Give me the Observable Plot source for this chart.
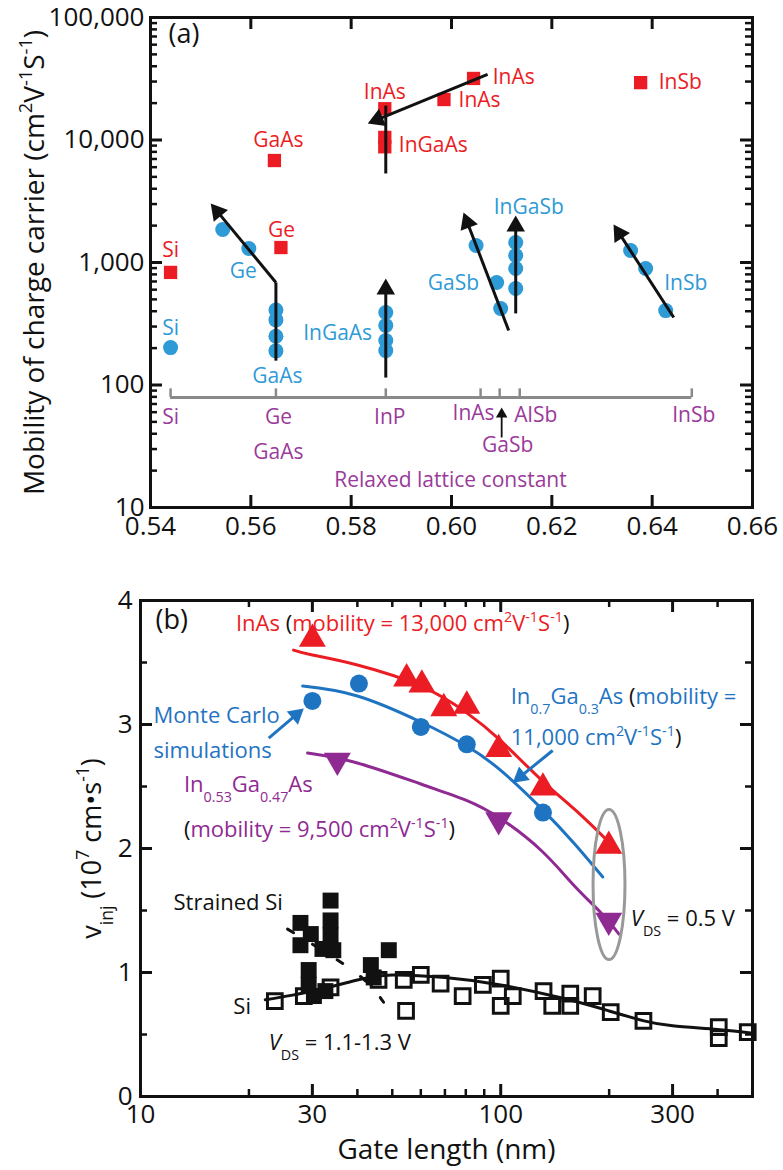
<!DOCTYPE html>
<html><head><meta charset="utf-8">
<script src="https://cdn.jsdelivr.net/npm/d3@7"></script>
<script src="https://cdn.jsdelivr.net/npm/@observablehq/plot@0.6"></script>
<style>
html,body{margin:0;padding:0;background:#fff;}
#wrap{position:relative;width:783px;height:1170px;overflow:hidden;background:#fff;}
#wrap svg{position:absolute;left:0;}
</style></head><body><div id="wrap"></div>
<script>
// ---------------- Panel (a) data ----------------
const latticeTicks = [0.54, 0.56, 0.58, 0.60, 0.62, 0.64, 0.66];
const mobilityTicks = [10, 100, 1000, 10000, 100000];

// electron mobility (red squares)
const redLattice  = [0.544, 0.5647, 0.566, 0.5867, 0.5867, 0.5867, 0.5985, 0.6044, 0.6377];
const redMobility = [830, 6800, 1325, 18000, 10500, 8800, 21400, 31800, 29400];

// hole mobility (blue circles)
const blueLattice  = [0.544, 0.5544, 0.5596, 0.565, 0.565, 0.565, 0.565, 0.5869, 0.5869, 0.5869, 0.5869,
                      0.6049, 0.609, 0.6098, 0.6128, 0.6128, 0.6128, 0.6128, 0.6357, 0.6387, 0.6427];
const blueMobility = [202, 1860, 1300, 410, 340, 250, 190, 391, 306, 231, 191,
                      1376, 687, 421, 1455, 1140, 893, 614, 1253, 893, 405];

// black trend arrows (tail -> head)
const arrowX1 = [0.565, 0.5869, 0.6114, 0.6128, 0.6443, 0.6072];
const arrowY1 = [687, 115, 279, 384, 356, 34300];
const arrowX2 = [0.552, 0.5869, 0.6024, 0.6128, 0.6323, 0.5833];
const arrowY2 = [3034, 740, 2560, 2420, 2040, 13650];
// plain black segments
const segX1 = [0.565, 0.5869];
const segY1 = [158, 5330];
const segX2 = [0.565, 0.5869];
const segY2 = [687, 19100];

// relaxed lattice constant bar
const relaxedLattice = [0.544, 0.565, 0.5869, 0.6058, 0.6096, 0.6136, 0.6479];
const barLevel = 79;
const barTickTop = 93;

const redLabelText   = ["Si", "GaAs", "Ge", "InAs", "InGaAs", "InAs", "InAs", "InSb"];
const redLabelX      = [0.544, 0.5655, 0.5661, 0.5867, 0.5895, 0.6014, 0.6082, 0.6413];
const redLabelY      = [1253, 10000, 1825, 24400, 9020, 21000, 32400, 29400];
const redLabelStart  = [false, false, false, false, true, true, true, true];

const blueLabelText = ["Si", "Ge", "GaAs", "InGaAs", "GaSb", "InGaSb", "InSb"];
const blueLabelX    = [0.544, 0.5585, 0.5653, 0.5773, 0.6004, 0.6154, 0.6467];
const blueLabelY    = [289, 845, 117, 263, 674, 2810, 674];

const purpleLabelText = ["Si", "Ge", "GaAs", "InP", "InAs", "GaSb", "AlSb", "InSb", "Relaxed lattice constant"];
const purpleLabelX    = [0.544, 0.5655, 0.5655, 0.5877, 0.6044, 0.6112, 0.6168, 0.6483, 0.5998];
const purpleLabelY    = [54.3, 54.3, 28.1, 54.3, 58.5, 32.1, 56.3, 56.3, 16.6];
const gasbArrowX = [0.61], gasbArrowY1 = [37.3], gasbArrowY2 = [65.5];

// ---------------- Panel (b) data ----------------
const gateTicks = [10, 30, 100, 300];
const gateMinorTicks = [20, 40, 50, 60, 70, 80, 90, 200, 400];
const vTicks = [0, 1, 2, 3, 4];
const vMinorTicks = [0.5, 1.5, 2.5, 3.5];

const inasGate = [30, 54.8, 60.4, 69.5, 80.5, 98.7, 131, 199.5];
const inasV    = [3.69, 3.37, 3.32, 3.13, 3.15, 2.80, 2.49, 2.02];
const inasFitGate = [26.6, 30, 40, 60, 80, 100, 130, 167, 213];
const inasFitV    = [3.60, 3.56, 3.48, 3.31, 3.10, 2.87, 2.55, 2.27, 1.97];

const in07Gate = [30, 40.4, 60, 80.5, 131];
const in07V    = [3.19, 3.33, 2.98, 2.84, 2.29];
const in07FitGate = [28.2, 40, 60, 80, 100, 130, 160, 192];
const in07FitV    = [3.31, 3.23, 3.02, 2.83, 2.63, 2.32, 2.04, 1.77];

const in053Gate = [35.2, 98.7, 199.5];
const in053V    = [2.71, 2.23, 1.42];
const in053FitGate = [29.1, 40, 60, 80, 100, 130, 160, 190, 213];
const in053FitV    = [2.77, 2.69, 2.52, 2.39, 2.24, 1.98, 1.70, 1.48, 1.31];

const siGate = [23.6, 28.4, 33.7, 45.8, 53.8, 54.6, 60, 68.1, 78.4, 89.2, 100, 100, 108, 131.5, 139, 156, 156, 180, 202, 249, 403, 403, 485];
const siV    = [0.77, 0.81, 0.88, 0.94, 0.94, 0.69, 0.98, 0.91, 0.81, 0.90, 0.95, 0.73, 0.81, 0.85, 0.73, 0.83, 0.73, 0.81, 0.68, 0.61, 0.56, 0.47, 0.52];
const siFitGate = [22.2, 30, 40, 50, 70, 100, 150, 200, 250, 300, 400, 500];
const siFitV    = [0.78, 0.85, 0.94, 0.98, 0.96, 0.90, 0.79, 0.69, 0.61, 0.57, 0.54, 0.51];

const ssGate = [27.8, 29.7, 27.8, 29.3, 29.3, 30.3, 33.7, 33.7, 33.7, 34.3, 32.0, 32.6, 43.6, 44.4, 48.9];
const ssV    = [1.40, 1.31, 1.22, 1.02, 0.90, 0.81, 1.58, 1.42, 1.30, 1.18, 1.19, 0.85, 1.06, 0.96, 1.18];
const ssDashGate = [25.6, 39.5, 47.3];
const ssDashV    = [1.35, 1.0, 0.76];

// blue annotation arrows (Monte Carlo)
const mcX1 = [22.7, 139.4], mcY1 = [2.89, 2.79];
const mcX2 = [28.4, 108],   mcY2 = [3.13, 2.53];

// V_DS = 0.5 V ellipse bounds
const ellipseGate = [181, 222];
const ellipseV = [1.10, 2.31];

const RED = "#ec1c24", BLUE_A = "#2e9ad6", BLUE_B = "#1f74c2", PURPLE = "#8f2a93", PURPLE_T = "#9a3a9a", GRAY = "#8a8a8a";

const annText = [
  "InAs #{(}mobility = 13,000 cm^{2}V^{-1}S^{-1}#{)}",
  "Monte Carlo",
  "simulations",
  "In_{0.7}Ga_{0.3}As #{(}mobility =",
  "11,000 cm^{2}V^{-1}S^{-1}#{)}",
  "In_{0.53}Ga_{0.47}As",
  "#{(}mobility = 9,500 cm^{2}V^{-1}S^{-1}#{)}",
  "Strained Si",
  "Si",
  "~{V}_{DS} = 1.1-1.3 V",
  "~{V}_{DS} = 0.5 V"
];
const annX = [18.4, 10.87, 10.87, 106.6, 106.6, 13.2, 13.2, 12.35, 18.1, 22.7, 229.7];
const annY = [3.81, 3.07, 2.79, 3.22, 2.89, 2.51, 2.15, 1.56, 0.72, 0.43, 1.43];
const annColor = [RED, BLUE_B, BLUE_B, BLUE_B, BLUE_B, PURPLE, PURPLE, "#111", "#111", "#111", "#111"];

// ---------------- helpers ----------------
const FONT = "'Open Sans', 'DejaVu Sans', sans-serif";

// arrow geometry computed through a plot's own scales: shaft end + rotated triangle head
function arrowGeom(plot, x1s, y1s, x2s, y2s, h) {
  const sx = plot.scale("x"), sy = plot.scale("y");
  return x1s.map((_, i) => {
    const p1x = sx.apply(x1s[i]), p1y = sy.apply(y1s[i]);
    const p2x = sx.apply(x2s[i]), p2y = sy.apply(y2s[i]);
    const dx = p2x - p1x, dy = p2y - p1y, L = Math.hypot(dx, dy);
    const ux = dx / L, uy = dy / L;
    return {
      x1: x1s[i], y1: y1s[i],
      x2: sx.invert(p2x - ux * h * 0.6), y2: sy.invert(p2y - uy * h * 0.6),
      hx: sx.invert(p2x - ux * h * 2 / 3), hy: sy.invert(p2y - uy * h * 2 / 3),
      angle: Math.atan2(dx, -dy) * 180 / Math.PI
    };
  });
}
function arrowMarks(geom, color, h, sw) {
  if (!geom) return [];
  return [
    Plot.link(geom, {x1: "x1", y1: "y1", x2: "x2", y2: "y2", stroke: color, strokeWidth: sw}),
    Plot.dot(geom, {x: "hx", y: "hy", rotate: "angle", symbol: "triangle", r: h / 2.333, fill: color})
  ];
}
function enrich(root) {
  root.querySelectorAll("text").forEach(t => {
    if (t.querySelector("tspan")) return;
    const s = t.textContent;
    if (!/[\^_#~]\{/.test(s)) return;
    t.textContent = "";
    const re = /([\^_#~])\{([^}]*)\}/g;
    let last = 0, m;
    const add = (txt, k) => {
      if (!txt) return;
      const ts = document.createElementNS("http://www.w3.org/2000/svg", "tspan");
      ts.textContent = txt;
      if (k === "^") { ts.setAttribute("baseline-shift", "super"); ts.setAttribute("font-size", "0.65em"); }
      if (k === "_") { ts.setAttribute("baseline-shift", "sub"); ts.setAttribute("font-size", "0.65em"); }
      if (k === "#") ts.setAttribute("fill", "#111");
      if (k === "~") ts.setAttribute("font-style", "italic");
      t.appendChild(ts);
    };
    while ((m = re.exec(s))) { add(s.slice(last, m.index), null); add(m[2], m[1]); last = re.lastIndex; }
    add(s.slice(last), null);
  });
}

// ---------------- Panel (a) ----------------
const A_W = 783, A_H = 560, A_ML = 150, A_MR = 31, A_MT = 17, A_MB = 53;
const A_IW = A_W - A_ML - A_MR, A_IH = A_H - A_MT - A_MB;
const mobMinor = [];
for (let d = 10; d < 100000; d *= 10) for (let k = 2; k < 10; k++) mobMinor.push(d * k);
const latInner = latticeTicks.slice(1, -1);
const mobInner = mobilityTicks.slice(1, -1);

function buildA(trend, small) {
  return Plot.plot({
    width: A_W, height: A_H,
    marginLeft: A_ML, marginRight: A_MR, marginTop: A_MT, marginBottom: A_MB,
    style: {fontFamily: FONT, fontSize: "26px", background: "transparent", overflow: "visible", color: "#111"},
    x: {domain: [0.54, 0.66], ticks: latticeTicks, tickFormat: d3.format(".2f"), tickSize: 0, tickPadding: 9, label: null},
    y: {type: "log", domain: [10, 100000], ticks: mobilityTicks, tickFormat: d3.format(","), tickSize: 0, tickPadding: 6, label: null},
    marks: [
      Plot.ruleX(latInner, {insetTop: A_IH - 12, strokeWidth: 3}),
      Plot.ruleX(latInner, {insetBottom: A_IH - 12, strokeWidth: 3}),
      Plot.ruleY(mobInner, {insetRight: A_IW - 12, strokeWidth: 3}),
      Plot.ruleY(mobInner, {insetLeft: A_IW - 12, strokeWidth: 3}),
      Plot.ruleY(mobMinor, {insetRight: A_IW - 7, strokeWidth: 2.5}),
      Plot.ruleY(mobMinor, {insetLeft: A_IW - 7, strokeWidth: 2.5}),
      Plot.frame({stroke: "#111", strokeWidth: 3}),
      Plot.ruleY([barLevel], {x1: d3.min(relaxedLattice), x2: d3.max(relaxedLattice), stroke: GRAY, strokeWidth: 3}),
      Plot.ruleX(relaxedLattice, {y1: barLevel, y2: barTickTop, stroke: GRAY, strokeWidth: 2.5}),
      Plot.dot(redLattice, {x: redLattice, y: redMobility, symbol: "square", r: 7.5, fill: RED}),
      Plot.dot(blueLattice, {x: blueLattice, y: blueMobility, r: 7.5, fill: BLUE_A}),
      Plot.link(segX1, {x1: segX1, y1: segY1, x2: segX2, y2: segY2, stroke: "#111", strokeWidth: 3}),
      ...arrowMarks(trend, "#111", 16, 3),
      ...arrowMarks(small, "#111", 10, 1.8),
      Plot.text(redLabelText, {x: redLabelX, y: redLabelY, fill: RED, fontSize: 21, filter: redLabelStart.map(s => !s)}),
      Plot.text(redLabelText, {x: redLabelX, y: redLabelY, fill: RED, fontSize: 21, textAnchor: "start", filter: redLabelStart}),
      Plot.text(blueLabelText, {x: blueLabelX, y: blueLabelY, fill: BLUE_A, fontSize: 21}),
      Plot.text(purpleLabelText, {x: purpleLabelX, y: purpleLabelY, fill: PURPLE_T, fontSize: 21}),
      Plot.text(["(a)"], {frameAnchor: "top-left", dx: 18, dy: 6, fontSize: 27, textAnchor: "start", lineAnchor: "top"}),
      Plot.text(["Mobility of charge carrier (cm^{2}V^{-1}S^{-1})"], {frameAnchor: "left", rotate: -90, dx: -115, fontSize: 28, textAnchor: "middle", lineAnchor: "middle"})
    ]
  });
}

// ---------------- Panel (b) ----------------
const B_W = 783, B_H = 610, B_ML = 140, B_MR = 31, B_MT = 40, B_MB = 74;
const B_IW = B_W - B_ML - B_MR, B_IH = B_H - B_MT - B_MB;
const gateInner = gateTicks.slice(1);
const vInner = vTicks.slice(1, -1);

function buildB(mc) {
  return Plot.plot({
    width: B_W, height: B_H,
    marginLeft: B_ML, marginRight: B_MR, marginTop: B_MT, marginBottom: B_MB,
    style: {fontFamily: FONT, fontSize: "26px", background: "transparent", overflow: "visible", color: "#111"},
    x: {type: "log", domain: [10, 500], ticks: gateTicks, tickFormat: d => String(d), tickSize: 0, tickPadding: 8, label: null},
    y: {domain: [0, 4], ticks: vTicks, tickFormat: d => String(d), tickSize: 0, tickPadding: 8, label: null},
    color: {type: "identity"},
    marks: [
      Plot.ruleX(gateInner, {insetTop: B_IH - 12, strokeWidth: 3}),
      Plot.ruleX(gateInner, {insetBottom: B_IH - 12, strokeWidth: 3}),
      Plot.ruleX(gateMinorTicks, {insetTop: B_IH - 7, strokeWidth: 2.5}),
      Plot.ruleX(gateMinorTicks, {insetBottom: B_IH - 7, strokeWidth: 2.5}),
      Plot.ruleY(vInner, {insetRight: B_IW - 12, strokeWidth: 3}),
      Plot.ruleY(vInner, {insetLeft: B_IW - 12, strokeWidth: 3}),
      Plot.ruleY(vMinorTicks, {insetRight: B_IW - 7, strokeWidth: 2.5}),
      Plot.ruleY(vMinorTicks, {insetLeft: B_IW - 7, strokeWidth: 2.5}),
      Plot.frame({stroke: "#111", strokeWidth: 3}),
      Plot.line(siFitGate, {x: siFitGate, y: siFitV, curve: "natural", stroke: "#111", strokeWidth: 3}),
      Plot.line(ssDashGate, {x: ssDashGate, y: ssDashV, curve: "natural", stroke: "#111", strokeWidth: 3, strokeDasharray: "7,22"}),
      Plot.line(inasFitGate, {x: inasFitGate, y: inasFitV, curve: "natural", stroke: RED, strokeWidth: 3}),
      Plot.line(in07FitGate, {x: in07FitGate, y: in07FitV, curve: "natural", stroke: BLUE_B, strokeWidth: 3}),
      Plot.line(in053FitGate, {x: in053FitGate, y: in053FitV, curve: "natural", stroke: PURPLE, strokeWidth: 3}),
      Plot.dot(siGate, {x: siGate, y: siV, symbol: "square", r: 8.3, fill: "none", stroke: "#111", strokeWidth: 3}),
      Plot.dot(ssGate, {x: ssGate, y: ssV, symbol: "square", r: 9, fill: "#111"}),
      Plot.dot(inasGate, {x: inasGate, y: inasV, symbol: "triangle", r: 10, fill: RED}),
      Plot.dot(in07Gate, {x: in07Gate, y: in07V, r: 9, fill: BLUE_B}),
      Plot.dot(in053Gate, {x: in053Gate, y: in053V, symbol: "triangle", rotate: 180, r: 10, fill: PURPLE}),
      ...arrowMarks(mc, BLUE_B, 15, 3),
      Plot.text(annText, {x: annX, y: annY, fill: annColor, fontSize: 22, textAnchor: "start"}),
      Plot.text(["(b)"], {frameAnchor: "top-left", dx: 15, dy: 9, fontSize: 27, textAnchor: "start", lineAnchor: "top"}),
      Plot.text(["v_{inj} (10^{7} cm\u2022s^{-1})"], {frameAnchor: "left", rotate: -90, dx: -48, fontSize: 27, textAnchor: "middle", lineAnchor: "middle"}),
      Plot.text(["Gate length (nm)"], {frameAnchor: "bottom", dy: 54, fontSize: 28, textAnchor: "middle", lineAnchor: "middle"})
    ]
  });
}

// first pass gives the scales; second pass draws the arrows through them
const probeA = buildA(null, null);
const plotA = buildA(
  arrowGeom(probeA, arrowX1, arrowY1, arrowX2, arrowY2, 16),
  arrowGeom(probeA, gasbArrowX, gasbArrowY1, gasbArrowX, gasbArrowY2, 10)
);
const probeB = buildB(null);
const plotB = buildB(arrowGeom(probeB, mcX1, mcY1, mcX2, mcY2, 15));

const wrap = document.getElementById("wrap");
plotA.style.top = "0px";
plotB.style.top = "560px";
wrap.appendChild(plotA);
wrap.appendChild(plotB);
enrich(plotA); enrich(plotB);

// gray ellipse around the V_DS = 0.5 V points, positioned through the plot's scales
const sx = plotB.scale("x"), sy = plotB.scale("y");
const ex0 = sx.apply(ellipseGate[0]), ex1 = sx.apply(ellipseGate[1]);
const ey0 = sy.apply(ellipseV[0]), ey1 = sy.apply(ellipseV[1]);
const ell = document.createElementNS("http://www.w3.org/2000/svg", "ellipse");
ell.setAttribute("cx", (ex0 + ex1) / 2);
ell.setAttribute("cy", (ey0 + ey1) / 2);
ell.setAttribute("rx", Math.abs(ex1 - ex0) / 2);
ell.setAttribute("ry", Math.abs(ey1 - ey0) / 2);
ell.setAttribute("fill", "none");
ell.setAttribute("stroke", "#999");
ell.setAttribute("stroke-width", 3);
const firstDot = plotB.querySelector('g[aria-label="dot"]');
if (firstDot) plotB.insertBefore(ell, firstDot); else plotB.appendChild(ell);
</script>
</body></html>
